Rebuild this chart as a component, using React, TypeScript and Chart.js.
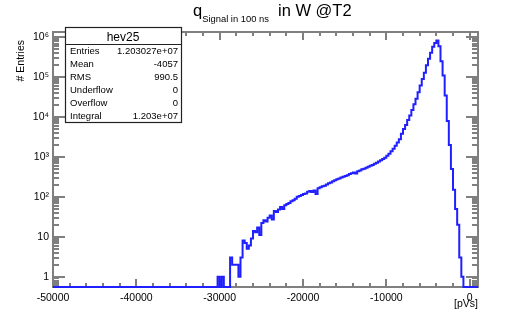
import React, { useEffect, useRef } from 'react';
import { Chart, registerables } from 'chart.js';

Chart.register(...registerables);

// ---- data ----
const X_MIN = -50000;
const X_MAX = 1000;
const Y_MIN = 0.55;
const Y_MAX = 1.36e6;
const BIN_START = -30500;
const BIN_WIDTH = 250;
const counts = [
  0, 1, 0, 1, 0, 0, 0, 3, 2, 2,
  2, 1, 3, 8, 7, 5, 6, 9, 14, 13,
  17, 11, 22, 26, 24, 30, 34, 27, 44, 42,
  48, 56, 50, 62, 66, 70, 78, 82, 90, 100,
  105, 112, 118, 122, 135, 140, 132, 145, 118, 165,
  175, 185, 190, 205, 220, 230, 245, 260, 275, 290,
  305, 320, 335, 350, 375, 390, 410, 385, 440, 460,
  490, 510, 540, 570, 600, 630, 680, 720, 770, 830,
  890, 960, 1080, 1200, 1400, 1600, 1900, 2300, 2800, 3800,
  5000, 6300, 8500, 11000, 15000, 21000, 29000, 42000, 62000, 90000,
  130000, 200000, 290000, 410000, 580000, 720000, 830000, 600000, 250000, 110000,
  35000, 8000, 2000, 500, 150, 50, 20, 3, 1, 0,
  0, 0, 0, 0, 0, 0,
];
const xMajorTicks = [-50000, -40000, -30000, -20000, -10000, 0];
const xTickLabels = ['-50000', '-40000', '-30000', '-20000', '-10000', '0'];
const yMajorTicks = [1, 10, 100, 1000, 10000, 100000, 1000000];
const yTickLabels = ['1', '10', '10²', '10³', '10⁴', '10⁵', '10⁶'];
const statsName = 'hev25';
const statsLabels = ['Entries', 'Mean', 'RMS', 'Underflow', 'Overflow', 'Integral'];
const statsValues = ['1.203027e+07', '-4057', '990.5', '0', '0', '1.203e+07'];
const titleMain = 'q';
const titleSub = 'Signal in 100 ns';
const titleRest = 'in W @T2';
const yTitle = '# Entries';
const xTitle = '[pVs]';

const FONT = '"Liberation Sans", Arial, Helvetica, sans-serif';
const FRAME = '#7f7f7f';
const BLUE = 'rgb(32,32,255)';

function buildPoints() {
  const pts: { x: number; y: number }[] = [];
  const v = (c: number) => (c > 0 ? c : Y_MIN);
  pts.push({ x: X_MIN, y: Y_MIN });
  counts.forEach((c, i) => pts.push({ x: BIN_START + i * BIN_WIDTH, y: v(c) }));
  pts.push({ x: BIN_START + counts.length * BIN_WIDTH, y: Y_MIN });
  return pts;
}

const framePlugin = {
  id: 'rootFrame',
  beforeDatasetsDraw(chart: any) {
    const ctx = chart.ctx;
    const { left, right, top, bottom } = chart.chartArea;
    const xs = chart.scales.x;
    const ys = chart.scales.y;
    ctx.save();
    ctx.strokeStyle = FRAME;
    ctx.lineWidth = 2;
    ctx.strokeRect(Math.round(left), Math.round(top), Math.round(right - left), Math.round(bottom - top));
    ctx.beginPath();
    for (let v = X_MIN; v <= X_MAX; v += 2000) {
      const px = Math.round(xs.getPixelForValue(v));
      if (px > right) continue;
      const major = v % 10000 === 0;
      const len = major ? 8 : 4;
      ctx.moveTo(px, bottom);
      ctx.lineTo(px, bottom - len);
      ctx.moveTo(px, top);
      ctx.lineTo(px, top + len);
    }
    for (let k = -1; k <= 6; k++) {
      for (let m = 1; m <= 9; m++) {
        const val = m * Math.pow(10, k);
        if (val < Y_MIN || val > Y_MAX) continue;
        const py = Math.round(ys.getPixelForValue(val));
        const len = m === 1 ? 12 : 6;
        ctx.moveTo(left, py);
        ctx.lineTo(left + len, py);
        ctx.moveTo(right, py);
        ctx.lineTo(right - len, py);
      }
    }
    ctx.stroke();
    ctx.restore();
  },
  afterDatasetsDraw(chart: any) {
    const ctx = chart.ctx;
    const { right, top } = chart.chartArea;
    ctx.save();
    // stats box
    const bx = 65, by = 27, bw = 116, bh = 95;
    ctx.fillStyle = '#fff';
    ctx.fillRect(bx, by, bw, bh);
    ctx.strokeStyle = '#222';
    ctx.lineWidth = 1.2;
    ctx.strokeRect(bx + 0.5, by + 0.5, bw, bh);
    ctx.beginPath();
    ctx.moveTo(bx, by + 17.5);
    ctx.lineTo(bx + bw, by + 17.5);
    ctx.stroke();
    ctx.fillStyle = '#000';
    ctx.font = `12px ${FONT}`;
    ctx.textAlign = 'center';
    ctx.textBaseline = 'alphabetic';
    ctx.fillText(statsName, bx + bw / 2, by + 14);
    ctx.font = `9.5px ${FONT}`;
    statsLabels.forEach((lab, i) => {
      const yy = by + 27 + i * 13;
      ctx.textAlign = 'left';
      ctx.fillText(lab, bx + 5, yy);
      ctx.textAlign = 'right';
      ctx.fillText(statsValues[i], bx + bw - 3, yy);
    });
    // title
    ctx.textAlign = 'left';
    ctx.font = `16.5px ${FONT}`;
    ctx.fillText(titleMain, 193, 16);
    const qw = ctx.measureText(titleMain).width;
    ctx.font = `9.4px ${FONT}`;
    ctx.fillText(titleSub, 193 + qw, 22);
    ctx.font = `16.5px ${FONT}`;
    ctx.fillText(titleRest, 278, 16);
    // x title
    ctx.font = `10.5px ${FONT}`;
    ctx.textAlign = 'right';
    ctx.fillText(xTitle, right, 307);
    // y title
    ctx.translate(24, top);
    ctx.rotate(-Math.PI / 2);
    ctx.textAlign = 'right';
    ctx.fillText(yTitle, -8, 0);
    ctx.restore();
  },
};

export default function App() {
  const ref = useRef<HTMLCanvasElement | null>(null);
  useEffect(() => {
    if (!ref.current) return;
    const chart = new Chart(ref.current, {
      type: 'line',
      data: {
        datasets: [
          {
            data: buildPoints(),
            borderColor: BLUE,
            borderWidth: 2,
            pointRadius: 0,
            stepped: 'before',
            fill: false,
            clip: false as any,
          },
        ],
      },
      options: {
        animation: false,
        responsive: false,
        devicePixelRatio: 1,
        parsing: false as any,
        layout: { padding: { top: 32, right: 54, left: 0, bottom: 0 } },
        plugins: { legend: { display: false }, tooltip: { enabled: false }, title: { display: false } },
        scales: {
          x: {
            type: 'linear',
            min: X_MIN,
            max: X_MAX,
            grid: { display: false, drawTicks: false },
            border: { display: false },
            afterBuildTicks: (s: any) => {
              s.ticks = xMajorTicks.map((v) => ({ value: v }));
            },
            afterFit: (s: any) => {
              s.height = 33;
            },
            ticks: {
              autoSkip: false,
              maxRotation: 0,
              padding: 5,
              color: '#000',
              font: { family: FONT, size: 10.5 },
              callback: (v: any) => {
                const i = xMajorTicks.indexOf(Number(v));
                return i >= 0 ? xTickLabels[i] : '';
              },
            },
          },
          y: {
            type: 'logarithmic',
            min: Y_MIN,
            max: Y_MAX,
            grid: { display: false, drawTicks: false },
            border: { display: false },
            afterBuildTicks: (s: any) => {
              s.ticks = yMajorTicks.map((v) => ({ value: v }));
            },
            afterFit: (s: any) => {
              s.width = 53;
            },
            ticks: {
              autoSkip: false,
              padding: 4,
              color: '#000',
              font: { family: FONT, size: 10.5 },
              callback: (v: any) => {
                const i = yMajorTicks.indexOf(Number(v));
                return i >= 0 ? yTickLabels[i] : '';
              },
            },
          },
        },
      },
      plugins: [framePlugin],
    });
    return () => chart.destroy();
  }, []);
  return (
    <div style={{ position: 'absolute', left: 0, top: 0, width: 532, height: 320, background: '#fff' }}>
      <canvas ref={ref} width={532} height={320} style={{ width: 532, height: 320, display: 'block' }} />
    </div>
  );
}
